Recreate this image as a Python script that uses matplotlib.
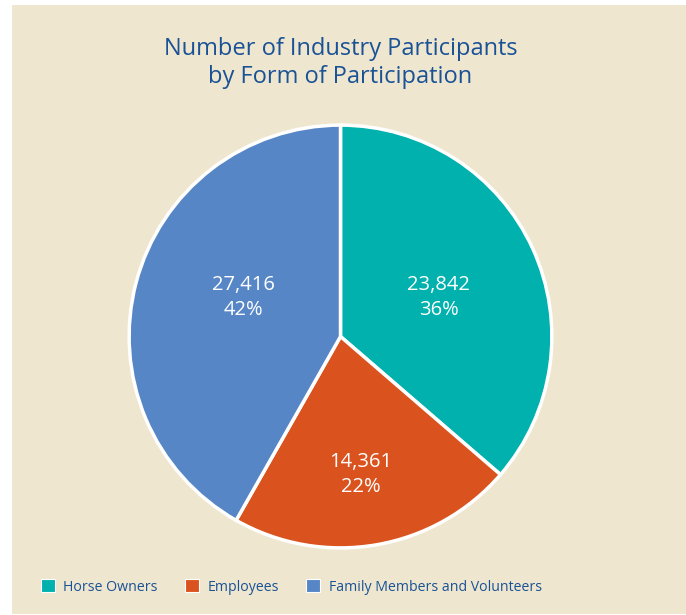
import numpy as np
import matplotlib.pyplot as plt
from matplotlib.patches import Rectangle

categories = ['Horse Owners', 'Employees', 'Family Members and Volunteers']
values = [23842, 14361, 27416]
percents = ['36%', '22%', '42%']
colors = ['#00B1AE', '#DA531E', '#5686C6']

title_color = '#1A5296'
bg = '#EFE6CF'

plt.rcParams['font.family'] = ['Open Sans', 'DejaVu Sans']

W, H = 686, 615
fig = plt.figure(figsize=(W / 100, H / 100), dpi=100)
fig.patch.set_facecolor('white')
fig.patches.append(Rectangle((12 / W, 1 / H), (W - 12) / W, (614 - 5) / H,
                             transform=fig.transFigure, facecolor=bg,
                             edgecolor='none', zorder=-1))

cx, cy, r = 340.5, 336.5, 213.5
ax = fig.add_axes([(cx - r) / W, (H - cy - r) / H, 2 * r / W, 2 * r / H])
ax.set_facecolor('none')

wedges, _ = ax.pie(values, colors=colors, startangle=90, counterclock=False,
                   wedgeprops=dict(edgecolor='white', linewidth=2.5))

# label inside each wedge, nudged off the mid angle like the original
dist = [0.5, 0.66, 0.495]
shift = [-3, -1.5, -7]
for w, v, p, d, s in zip(wedges, values, percents, dist, shift):
    ang = np.deg2rad((w.theta1 + w.theta2) / 2 + s)
    ax.text(d * np.cos(ang), d * np.sin(ang), f'{v:,}\n{p}', color='white',
            fontsize=14.5, ha='center', va='center', linespacing=1.3)

ax.set_xlim(-1.01, 1.01)
ax.set_ylim(-1.01, 1.01)
ax.set_aspect('equal')
ax.axis('off')

fig.text(cx / W, 1 - 63 / H, 'Number of Industry Participants\nby Form of Participation',
         ha='center', va='center', fontsize=17, color=title_color, linespacing=1.25)

handles = [Rectangle((0, 0), 1, 1, facecolor=c, edgecolor='white', linewidth=0.8)
           for c in colors]
leg = fig.legend(handles, categories, loc='center left',
                 bbox_to_anchor=(28 / W, 1 - 587 / H), ncol=3, frameon=False,
                 fontsize=10.2, handlelength=1.0, handleheight=1.0,
                 handletextpad=0.6, columnspacing=1.9, labelcolor=title_color)

fig.savefig('out.png', dpi=100, facecolor=fig.get_facecolor())
